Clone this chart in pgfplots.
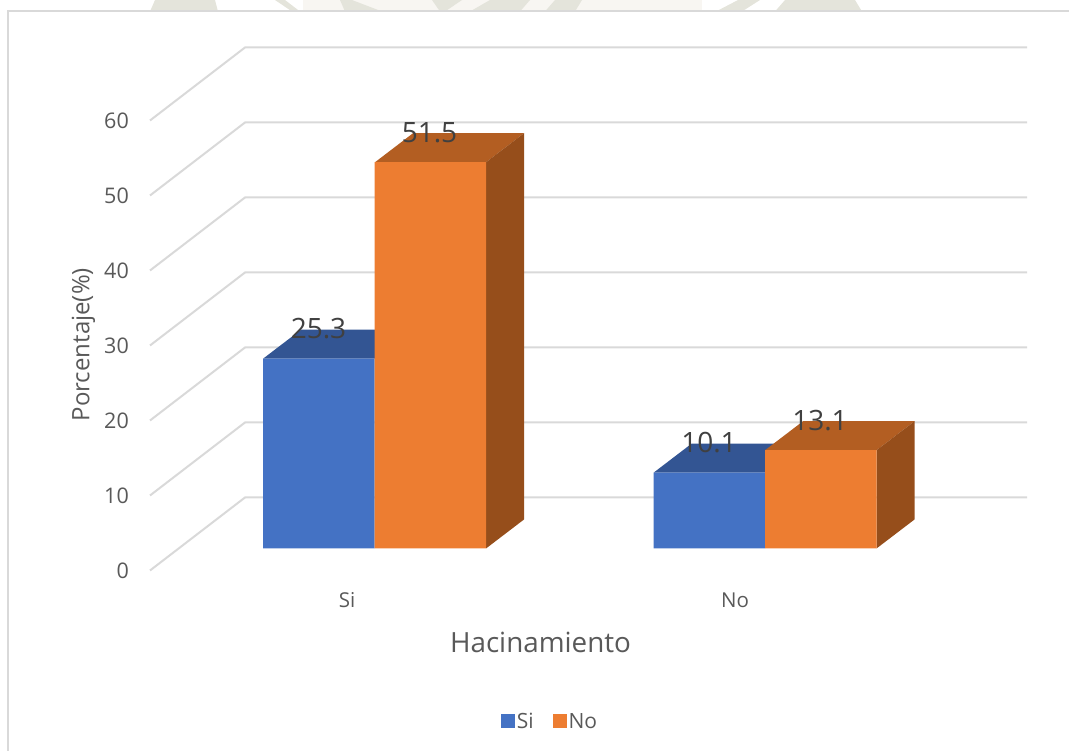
\documentclass[border=0pt]{standalone}
\usepackage{pgfplots}
\usepackage{fontspec}
\setmainfont{Open Sans}
\pgfplotsset{compat=1.18}
\definecolor{gridgray}{HTML}{D9D9D9}
\definecolor{txt}{HTML}{595959}
\definecolor{lbl}{HTML}{404040}
\definecolor{blueF}{HTML}{4472C4}
\definecolor{blueT}{HTML}{335593}
\definecolor{orangeF}{HTML}{ED7D31}
\definecolor{orangeT}{HTML}{B35E22}
\definecolor{orangeS}{HTML}{964E1B}
\definecolor{wmA}{HTML}{F8F6F2}
\definecolor{wmB}{HTML}{E4E4DB}
\begin{document}
\begin{tikzpicture}
\begin{axis}[
  scale only axis, width=1069pt, height=751pt,
  xmin=0, xmax=1069, ymin=-27.0, ymax=73.1333,
  axis line style={draw=none}, major tick length=0pt,
  tick style={draw=none},
  ytick={-2.933,7.067,17.067,27.067,37.067,47.067,57.067},
  yticklabels={0,10,20,30,40,50,60},
  xtick={347,735}, xticklabels={Si,No},
  yticklabel style={anchor=east, inner sep=0pt, xshift=129pt, text=txt,
    font=\fontsize{21.5}{25}\selectfont},
  xticklabel style={anchor=center, inner sep=0pt, yshift=151pt, text=txt,
    font=\fontsize{20.5}{24}\selectfont},
  xlabel={Hacinamiento}, ylabel={Porcentaje(\%)},
  xlabel style={at={(axis description cs:0.5056,0.145)}, anchor=center,
    text=txt, font=\fontsize{27.8}{33}\selectfont},
  ylabel style={at={(axis description cs:0.078,0.541)}, anchor=center,
    rotate=0, text=txt, font=\fontsize{24}{29}\selectfont},
  legend columns=2,
  legend style={at={(axis description cs:0.5145,0.0395)}, anchor=center,
    draw=none, fill=none, inner sep=0pt, text=txt,
    font=\fontsize{21}{25}\selectfont,
    /tikz/every even column/.append style={column sep=17pt}},
  legend image code/.code={\fill[#1] (0pt,-7pt) rectangle (14pt,7pt);},
]
% faint crest printed behind the page header
\addplot[fill=wmA, draw=none, forget plot] coordinates {(303,73.13)(702,73.13)(702,71.6)(303,71.6)};
\addplot[fill=wmB, draw=none, forget plot] coordinates {(155,73.13)(215,73.13)(218,71.6)(150,71.6)};
\addplot[fill=wmB, draw=none, forget plot] coordinates {(275,73.13)(285,73.13)(300,71.6)(292,71.6)};
\addplot[fill=wmB, draw=none, forget plot] coordinates {(340,73.13)(352,73.13)(382,71.6)(345,71.6)};
\addplot[fill=wmB, draw=none, forget plot] coordinates {(432,73.13)(462,73.13)(445,71.6)(440,71.6)};
\addplot[fill=wmB, draw=none, forget plot] coordinates {(490,73.13)(530,73.13)(520,71.6)(470,71.6)};
\addplot[fill=wmB, draw=none, forget plot] coordinates {(555,73.13)(582,73.13)(575,71.6)(545,71.6)};
\addplot[fill=wmB, draw=none, forget plot] coordinates {(738,73.13)(760,73.13)(742,71.6)(716,71.6)};
\addplot[fill=wmB, draw=none, forget plot] coordinates {(785,73.13)(855,73.13)(862,71.6)(775,71.6)};
% outer frame
\addplot[gridgray, line width=2pt, forget plot] coordinates {(8,-27.07)(8,71.6)(1069,71.6)};
% side wall gridlines
\addplot[gridgray, line width=2pt, forget plot] coordinates {(150,-2.933)(245,6.8)(1027,6.8)};
\addplot[gridgray, line width=2pt, forget plot] coordinates {(150,7.067)(245,16.8)(1027,16.8)};
\addplot[gridgray, line width=2pt, forget plot] coordinates {(150,17.067)(245,26.8)(1027,26.8)};
\addplot[gridgray, line width=2pt, forget plot] coordinates {(150,27.067)(245,36.8)(1027,36.8)};
\addplot[gridgray, line width=2pt, forget plot] coordinates {(150,37.067)(245,46.8)(1027,46.8)};
\addplot[gridgray, line width=2pt, forget plot] coordinates {(150,47.067)(245,56.8)(1027,56.8)};
\addplot[gridgray, line width=2pt, forget plot] coordinates {(150,57.067)(245,66.8)(1027,66.8)};
% bar tops and right-hand sides, receding by the chart depth
\addplot[fill=blueT, draw=none, forget plot] coordinates {(263,25.3)(301,29.167)(413,29.167)(375,25.3)};
\addplot[fill=orangeT, draw=none, forget plot] coordinates {(375,51.5)(413,55.367)(524,55.367)(486,51.5)};
\addplot[fill=orangeS, draw=none, forget plot] coordinates {(486,0)(524,3.867)(524,55.367)(486,51.5)};
\addplot[fill=blueT, draw=none, forget plot] coordinates {(653.5,10.1)(691.5,13.967)(803,13.967)(765,10.1)};
\addplot[fill=orangeT, draw=none, forget plot] coordinates {(765,13.1)(803,16.967)(914.5,16.967)(876.5,13.1)};
\addplot[fill=orangeS, draw=none, forget plot] coordinates {(876.5,0)(914.5,3.867)(914.5,16.967)(876.5,13.1)};
% front faces with their value labels
\addplot[ybar, bar width=111.5pt, bar shift=-55.75pt, fill=blueF, draw=none,
  nodes near coords={\pgfmathprintnumber[fixed,fixed zerofill,precision=1,assume math mode=true]{\pgfplotspointmeta}},
  nodes near coords style={anchor=center, xshift=-56pt, yshift=30pt, inner sep=0pt, text=lbl,
    font=\fontsize{28}{33}\selectfont}]
  coordinates {(374.5,25.3)(765,10.1)};
\addlegendentry{Si}
\addplot[ybar, bar width=111.5pt, bar shift=55.75pt, fill=orangeF, draw=none,
  nodes near coords={\pgfmathprintnumber[fixed,fixed zerofill,precision=1,assume math mode=true]{\pgfplotspointmeta}},
  nodes near coords style={anchor=center, xshift=55pt, yshift=30pt, inner sep=0pt, text=lbl,
    font=\fontsize{28}{33}\selectfont}]
  coordinates {(374.5,51.5)(765,13.1)};
\addlegendentry{No}
\end{axis}
\end{tikzpicture}
\end{document}
